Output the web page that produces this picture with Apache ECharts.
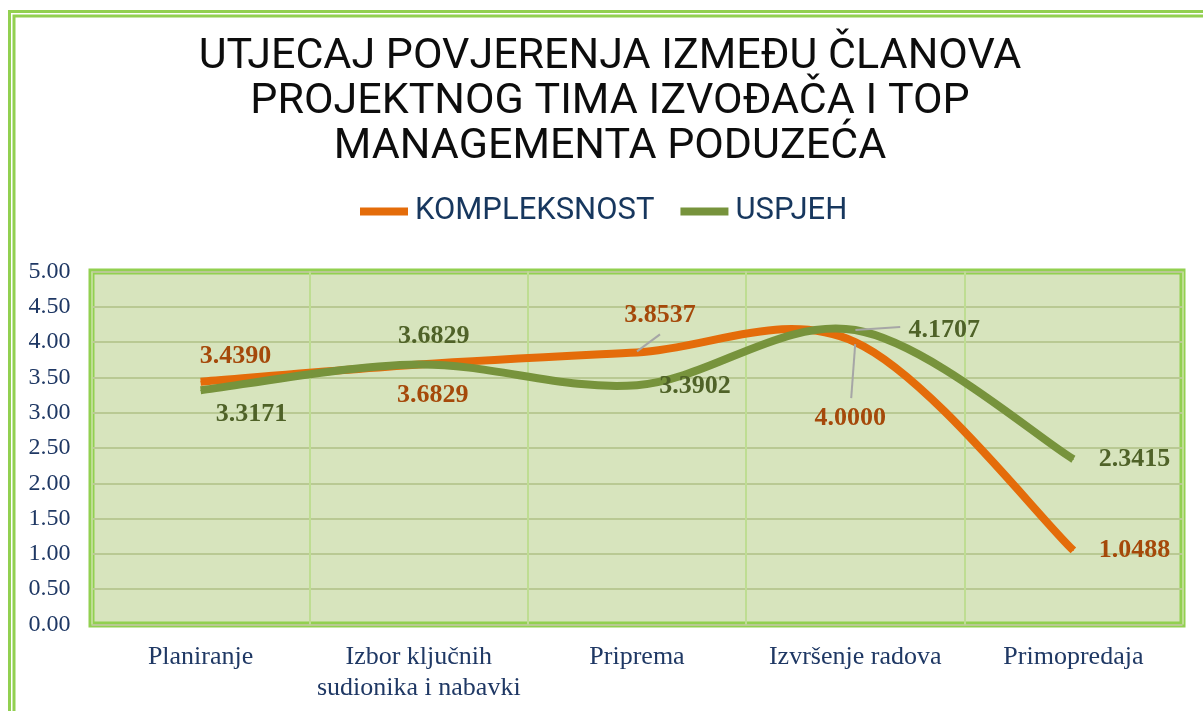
<!DOCTYPE html>
<html>
<head>
<meta charset="utf-8">
<script src="https://cdn.jsdelivr.net/npm/echarts@6/dist/echarts.min.js"></script>
<style>html,body{margin:0;padding:0;background:#fff}#c{width:1203px;height:711px}</style>
</head>
<body>
<div id="c"></div>
<script>
const titleLines = ['UTJECAJ POVJERENJA IZMEĐU ČLANOVA', 'PROJEKTNOG TIMA IZVOĐAČA I TOP', 'MANAGEMENTA PODUZEĆA'];
const categories = ['Planiranje', 'Izbor ključnih\nsudionika i nabavki', 'Priprema', 'Izvršenje radova', 'Primopredaja'];
const seriesNames = ['KOMPLEKSNOST', 'USPJEH'];
const kompleksnost = [3.4390, 3.6829, 3.8537, 4.0000, 1.0488];
const uspjeh = [3.3171, 3.6829, 3.3902, 4.1707, 2.3415];
const yTicks = [0, 0.5, 1, 1.5, 2, 2.5, 3, 3.5, 4, 4.5, 5];

// label placement (offsets from the point, px)
const kLabelOffsets = [[35, -25], [14, 31], [23, -37], [-5, 76], [61, 0]];
const uLabelOffsets = [[51, 24], [15, -28], [58, 1], [89, 0], [61, 0]];
// leader lines: [x1, y1, x2, y2] relative to the point, or null
const kLeaders = [null, null, [0, -1, 23, -18], [0, 2, -4, 56], null];
const uLeaders = [null, null, null, [0, 0, 45, -3], null];

const COLORS = { k: '#e46c0a', u: '#77933c', kLabel: '#a5490a', uLabel: '#4f6228' };

function labelData(values, offsets) {
  return values.map((v, i) => ({ value: v, label: { offset: offsets[i] } }));
}

// Excel-like smoothed curve drawn through the chart's own coordinate system
function curveSeries(name, values, color, leaders, z2) {
  return {
    type: 'custom', name: name, coordinateSystem: 'cartesian2d',
    itemStyle: { color: color },
    data: values.map((v, i) => [i, v]),
    encode: { x: 0, y: 1 },
    renderItem: function (params, api) {
      const children = [];
      if (params.dataIndex === 0) {
        const pts = values.map((v, i) => api.coord([i, v]));
        let d = 'M' + pts[0][0] + ',' + pts[0][1];
        for (let i = 0; i < pts.length - 1; i++) {
          const p0 = pts[Math.max(i - 1, 0)], p1 = pts[i], p2 = pts[i + 1], p3 = pts[Math.min(i + 2, pts.length - 1)];
          const c1x = p1[0] + (p2[0] - p0[0]) / 6, c1y = p1[1] + (p2[1] - p0[1]) / 6;
          const c2x = p2[0] - (p3[0] - p1[0]) / 6, c2y = p2[1] - (p3[1] - p1[1]) / 6;
          d += ' C' + c1x + ',' + c1y + ' ' + c2x + ',' + c2y + ' ' + p2[0] + ',' + p2[1];
        }
        children.push({
          type: 'path', z2: z2, shape: { pathData: d },
          style: { fill: 'none', stroke: color, lineWidth: 8, lineJoin: 'round', lineCap: 'butt' }
        });
      }
      const ld = leaders[params.dataIndex];
      if (ld) {
        const p = api.coord([params.dataIndex, values[params.dataIndex]]);
        children.push({
          type: 'line', z2: 100,
          shape: { x1: p[0] + ld[0], y1: p[1] + ld[1], x2: p[0] + ld[2], y2: p[1] + ld[3] },
          style: { stroke: '#a6a6a6', lineWidth: 2 }
        });
      }
      return { type: 'group', children: children };
    }
  };
}

function labelSeries(name, values, offsets, labelColor, color) {
  return {
    name: name, type: 'line', z: 5,
    symbol: 'circle', symbolSize: 1, showSymbol: true,
    itemStyle: { color: color }, lineStyle: { width: 0, opacity: 0 },
    label: {
      show: true, position: 'inside', color: labelColor,
      fontFamily: 'Liberation Serif', fontWeight: 'bold', fontSize: 26,
      formatter: (p) => p.value.toFixed(4)
    },
    data: labelData(values, offsets)
  };
}

const chart = echarts.init(document.getElementById('c'), null, { renderer: 'canvas' });
chart.setOption({
  animation: false,
  backgroundColor: '#ffffff',
  title: {
    text: titleLines.join('\n'),
    left: 610, textAlign: 'center', top: 35, padding: 0,
    textStyle: { fontFamily: 'Roboto', fontWeight: 'normal', fontSize: 43, lineHeight: 45, color: '#0d0d0d' }
  },
  legend: {
    data: seriesNames, top: 196, left: 360, padding: 0,
    icon: 'rect', itemWidth: 48, itemHeight: 8, itemGap: 26,
    textStyle: { fontFamily: 'Roboto', fontSize: 31, color: '#17375e', padding: [0, 0, 0, 2] }
  },
  graphic: [
    { type: 'rect', shape: { x: 9.5, y: 11.5, width: 1400, height: 900 }, style: { fill: 'none', stroke: '#92d050', lineWidth: 3 }, silent: true, z: 10 },
    { type: 'rect', shape: { x: 14, y: 16, width: 1400, height: 900 }, style: { fill: 'none', stroke: '#92d050', lineWidth: 3 }, silent: true, z: 10 }
  ],
  grid: {
    left: 91.5, right: 20.5, top: 271.5, bottom: 86.5,
    show: true, backgroundColor: '#d7e4bd', borderColor: '#92d050', borderWidth: 6
  },
  xAxis: {
    type: 'category', data: categories, boundaryGap: true,
    axisLine: { show: false }, axisTick: { show: false },
    splitLine: { show: true, lineStyle: { color: '#bedd92', width: 2 } },
    axisLabel: { fontFamily: 'Liberation Serif', fontSize: 26, color: '#1f3864', margin: 17, lineHeight: 31, interval: 0 }
  },
  yAxis: {
    type: 'value', min: yTicks[0], max: yTicks[yTicks.length - 1], interval: 0.5,
    axisLine: { show: false }, axisTick: { show: false },
    splitLine: { show: true, lineStyle: { color: '#b9c993', width: 2 } },
    axisLabel: { fontFamily: 'Liberation Serif', fontSize: 24, color: '#1f3864', margin: 21, formatter: (v) => v.toFixed(2) }
  },
  series: [
    curveSeries(seriesNames[0], kompleksnost, COLORS.k, kLeaders, 1),
    curveSeries(seriesNames[1], uspjeh, COLORS.u, uLeaders, 2),
    labelSeries(seriesNames[0] + ' (vrijednosti)', kompleksnost, kLabelOffsets, COLORS.kLabel, COLORS.k),
    labelSeries(seriesNames[1] + ' (vrijednosti)', uspjeh, uLabelOffsets, COLORS.uLabel, COLORS.u)
  ]
});
</script>
</body>
</html>
